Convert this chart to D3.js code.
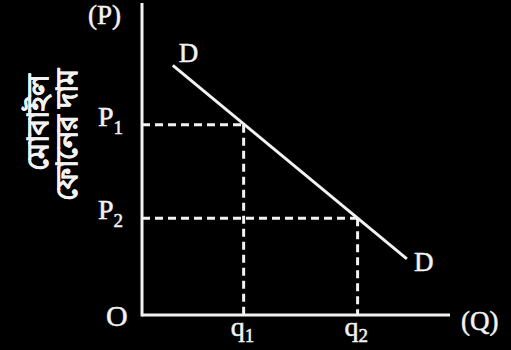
<!DOCTYPE html>
<html>
<head>
<meta charset="utf-8">
<script src="https://cdn.jsdelivr.net/npm/d3@7"></script>
<style>
  html, body { margin: 0; padding: 0; background: #000; }
  svg { display: block; }
  text { fill: #f2f2f2; stroke: #f2f2f2; stroke-width: 0.5px; font-family: "Liberation Serif", "DejaVu Serif", serif; }
</style>
</head>
<body>
<script>
// Demand curve DD: quantity (Q) against price (P)
const demandQ = [1, 8.6];
const demandP = [8, 1.8];
// Two price levels and the quantities demanded at them
const priceLabels = ["P", "P"];
const priceSubs = ["1", "2"];
const priceLevels = [6.1, 3.1];
const qtyLabels = ["q", "q"];
const qtySubs = ["1", "2"];
const qtyLevels = [3.3, 7];
const yTitle = ["মোবাইল", "ফোনের দাম"];

const W = 511, H = 350;
const svg = d3.select("body").append("svg").attr("width", W).attr("height", H);
svg.append("rect").attr("width", W).attr("height", H).attr("fill", "#000");

const x = d3.scaleLinear().domain([0, 10]).range([142, 450]);
const y = d3.scaleLinear().domain([0, 10]).range([315, 3]);

const white = "#f2f2f2";

// Axes
svg.append("line").attr("x1", x(0)).attr("x2", x(0)).attr("y1", y(0) + 1.5).attr("y2", y(10))
  .attr("stroke", white).attr("stroke-width", 3);
svg.append("line").attr("x1", x(0)).attr("x2", x(10)).attr("y1", y(0)).attr("y2", y(0))
  .attr("stroke", white).attr("stroke-width", 3);

// Dashed guides from each price level to the curve and down to the quantity axis
const guides = priceLevels.map((p, i) => ({ p, q: qtyLevels[i] }));
const dash = "8,5";
svg.selectAll("line.h").data(guides).join("line").attr("class", "h")
  .attr("x1", x(0)).attr("x2", d => x(d.q)).attr("y1", d => y(d.p)).attr("y2", d => y(d.p))
  .attr("stroke", white).attr("stroke-width", 3).attr("stroke-dasharray", dash);
svg.selectAll("line.v").data(guides).join("line").attr("class", "v")
  .attr("x1", d => x(d.q)).attr("x2", d => x(d.q)).attr("y1", d => y(d.p)).attr("y2", y(0))
  .attr("stroke", white).attr("stroke-width", 3).attr("stroke-dasharray", dash);

// Demand line
const pts = demandQ.map((q, i) => [x(q), y(demandP[i])]);
svg.append("path").attr("d", d3.line()(pts))
  .attr("stroke", white).attr("stroke-width", 3).attr("fill", "none");

// D labels at both ends
svg.append("text").attr("x", pts[0][0] + 6).attr("y", pts[0][1] - 3)
  .attr("font-size", 27).text("D");
svg.append("text").attr("x", pts[1][0] + 7).attr("y", pts[1][1] + 12)
  .attr("font-size", 27).text("D");

// Price labels
priceLevels.forEach((p, i) => {
  const t = svg.append("text").attr("x", 98).attr("y", y(p) + 1).attr("font-size", 28);
  t.append("tspan").text(priceLabels[i]);
  t.append("tspan").attr("font-size", 19).attr("dy", 8).text(priceSubs[i]);
});

// Quantity labels
qtyLevels.forEach((q, i) => {
  const t = svg.append("text").attr("x", x(q) - 13).attr("y", y(0) + 21).attr("font-size", 28);
  t.append("tspan").text(qtyLabels[i]);
  t.append("tspan").attr("font-size", 19).attr("dy", 6).text(qtySubs[i]);
});

// Axis names and origin
svg.append("text").attr("x", 88).attr("y", 24).attr("font-size", 27).text("(P)");
svg.append("text").attr("x", 461).attr("y", 330).attr("font-size", 27).text("(Q)");
svg.append("text").attr("x", 106).attr("y", 326).attr("font-size", 30).text("O");

// Rotated Bengali title for the price axis
const title = svg.append("text")
  .attr("transform", "translate(48,122) rotate(-90)")
  .attr("text-anchor", "middle")
  .attr("font-family", "'Noto Sans Bengali', 'Noto Sans', sans-serif")
  .attr("font-weight", 700)
  .attr("font-size", 29);
title.append("tspan").attr("x", 0).attr("y", 0).text(yTitle[0]);
title.append("tspan").attr("x", -13).attr("y", 29).text(yTitle[1]);
</script>
</body>
</html>
